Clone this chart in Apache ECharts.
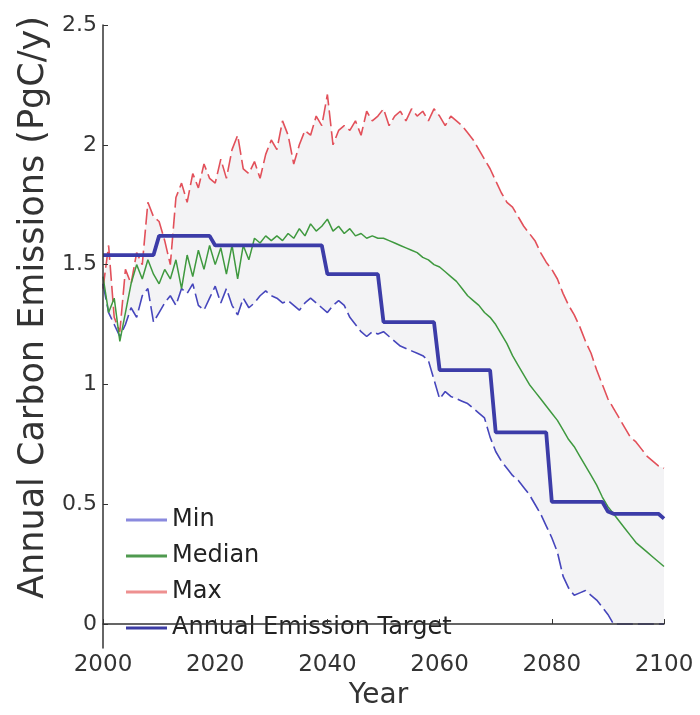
<!DOCTYPE html>
<html><head><meta charset="utf-8">
<script src="https://cdn.jsdelivr.net/npm/echarts@6/dist/echarts.min.js"></script>
<style>html,body{margin:0;padding:0;background:#fff}#c{width:700px;height:715px}</style>
</head><body><div id="c"></div>
<script>
const years = [
2000,2001,2002,2003,2004,2005,2006,2007,2008,2009,
2010,2011,2012,2013,2014,2015,2016,2017,2018,2019,
2020,2021,2022,2023,2024,2025,2026,2027,2028,2029,
2030,2031,2032,2033,2034,2035,2036,2037,2038,2039,
2040,2041,2042,2043,2044,2045,2046,2047,2048,2049,
2050,2051,2052,2053,2054,2055,2056,2057,2058,2059,
2060,2061,2062,2063,2064,2065,2066,2067,2068,2069,
2070,2071,2072,2073,2074,2075,2076,2077,2078,2079,
2080,2081,2082,2083,2084,2085,2086,2087,2088,2089,
2090,2091,2092,2093,2094,2095,2096,2097,2098,2099,
2100];

const minVals = [
1.42,1.30,1.25,1.20,1.25,1.32,1.28,1.37,1.40,1.26,
1.30,1.34,1.37,1.33,1.40,1.38,1.42,1.33,1.31,1.36,
1.41,1.34,1.40,1.33,1.29,1.36,1.32,1.34,1.37,1.39,
1.37,1.36,1.34,1.35,1.33,1.31,1.34,1.36,1.34,1.32,
1.30,1.33,1.35,1.33,1.28,1.25,1.22,1.20,1.22,1.21,
1.22,1.20,1.18,1.16,1.15,1.14,1.13,1.12,1.10,1.02,
0.94,0.97,0.95,0.94,0.93,0.92,0.90,0.88,0.86,0.78,
0.72,0.68,0.65,0.62,0.60,0.57,0.54,0.50,0.46,0.41,
0.36,0.30,0.20,0.15,0.12,0.13,0.14,0.12,0.10,0.07,
0.04,0.00,0.00,0.00,0.00,0.00,0.00,0.00,0.00,0.00,
0.00];

const medianVals = [
1.45,1.30,1.36,1.18,1.30,1.42,1.50,1.44,1.52,1.46,
1.42,1.48,1.44,1.52,1.40,1.54,1.45,1.56,1.48,1.58,
1.50,1.57,1.46,1.58,1.44,1.58,1.52,1.61,1.59,1.62,
1.60,1.62,1.60,1.63,1.61,1.65,1.62,1.67,1.64,1.66,
1.69,1.64,1.66,1.63,1.65,1.62,1.63,1.61,1.62,1.61,
1.61,1.60,1.59,1.58,1.57,1.56,1.55,1.53,1.52,1.50,
1.49,1.47,1.45,1.43,1.40,1.37,1.35,1.33,1.30,1.28,
1.25,1.21,1.17,1.12,1.08,1.04,1.00,0.97,0.94,0.91,
0.88,0.85,0.81,0.77,0.74,0.70,0.66,0.62,0.58,0.53,
0.49,0.46,0.43,0.40,0.37,0.34,0.32,0.30,0.28,0.26,
0.24];

const maxVals = [
1.40,1.58,1.28,1.22,1.48,1.42,1.55,1.50,1.76,1.70,
1.68,1.60,1.50,1.78,1.84,1.76,1.88,1.82,1.92,1.86,
1.84,1.94,1.86,1.98,2.04,1.90,1.88,1.93,1.86,1.96,
2.02,1.98,2.10,2.04,1.92,2.00,2.06,2.04,2.12,2.08,
2.21,2.00,2.06,2.08,2.06,2.10,2.04,2.14,2.10,2.12,
2.15,2.08,2.12,2.14,2.10,2.15,2.12,2.14,2.10,2.15,
2.12,2.08,2.12,2.10,2.08,2.05,2.02,1.98,1.94,1.90,
1.85,1.80,1.76,1.74,1.70,1.66,1.63,1.60,1.55,1.51,
1.48,1.44,1.38,1.33,1.29,1.24,1.18,1.13,1.06,1.00,
0.94,0.90,0.86,0.82,0.78,0.76,0.73,0.70,0.68,0.66,
0.65];

const targetVals = [
1.54,1.54,1.54,1.54,1.54,1.54,1.54,1.54,1.54,1.54,
1.62,1.62,1.62,1.62,1.62,1.62,1.62,1.62,1.62,1.62,
1.58,1.58,1.58,1.58,1.58,1.58,1.58,1.58,1.58,1.58,
1.58,1.58,1.58,1.58,1.58,1.58,1.58,1.58,1.58,1.58,
1.46,1.46,1.46,1.46,1.46,1.46,1.46,1.46,1.46,1.46,
1.26,1.26,1.26,1.26,1.26,1.26,1.26,1.26,1.26,1.26,
1.06,1.06,1.06,1.06,1.06,1.06,1.06,1.06,1.06,1.06,
0.80,0.80,0.80,0.80,0.80,0.80,0.80,0.80,0.80,0.80,
0.51,0.51,0.51,0.51,0.51,0.51,0.51,0.51,0.51,0.51,
0.47,0.46,0.46,0.46,0.46,0.46,0.46,0.46,0.46,0.46,
0.44];

const xTicks = [2000, 2020, 2040, 2060, 2080, 2100];
const yTicks = [0, 0.5, 1, 1.5, 2, 2.5];
const seriesNames = ['Min', 'Median', 'Max', 'Annual Emission Target'];

const pairs = vals => years.map((y, i) => [y, vals[i]]);

const FONT = '"DejaVu Sans", sans-serif';
const chart = echarts.init(document.getElementById('c'), null, {renderer: 'canvas'});
chart.setOption({
  backgroundColor: '#ffffff',
  animation: false,
  grid: {left: 103, right: 36, top: 25, bottom: 67, containLabel: false},
  legend: {
    orient: 'vertical', left: 121, top: 502,
    itemWidth: 41, itemHeight: 3, itemGap: 10,
    icon: 'rect',
    textStyle: {fontFamily: FONT, fontSize: 24, color: '#222', lineHeight: 26},
    data: [
      {name: seriesNames[0], itemStyle: {color: '#8a8ade'}},
      {name: seriesNames[1], itemStyle: {color: '#4f9a4f'}},
      {name: seriesNames[2], itemStyle: {color: '#ee9090'}},
      {name: seriesNames[3], itemStyle: {color: '#3c3ca4'}}
    ]
  },
  xAxis: {
    type: 'value', min: 2000, max: 2100, interval: 20, z: 10,
    name: 'Year', nameLocation: 'middle', nameGap: 13,
    nameTextStyle: {fontFamily: FONT, fontSize: 28, color: '#333', verticalAlign: 'top',
      padding: [0, 10, 0, 0]},
    axisLine: {lineStyle: {color: '#333', width: 1.5}},
    axisTick: {inside: true, length: 5, lineStyle: {color: '#333'}},
    axisLabel: {fontFamily: FONT, fontSize: 23, color: '#333', margin: 6,
      customValues: xTicks, formatter: v => String(v)},
    splitLine: {show: false}
  },
  yAxis: {
    type: 'value', min: -0.1, max: 2.5, z: 10,
    name: 'Annual Carbon Emissions (PgC/y)', nameLocation: 'middle', nameGap: 52,
    nameTextStyle: {fontFamily: FONT, fontSize: 35, color: '#333', padding: [0, 0, 0, 58]},
    axisLine: {show: true, lineStyle: {color: '#333', width: 1.5}},
    axisTick: {show: true, inside: true, length: 5, lineStyle: {color: '#333'}, customValues: yTicks},
    axisLabel: {fontFamily: FONT, fontSize: 22, color: '#333', margin: 6,
      customValues: yTicks, formatter: v => String(v)},
    splitLine: {show: false}
  },
  series: [
    {name: 'fill-max', type: 'line', data: pairs(maxVals), symbol: 'none',
      lineStyle: {opacity: 0}, areaStyle: {color: '#f3f3f5', opacity: 1, origin: 'start'},
      silent: true, z: 1},
    {name: 'fill-min', type: 'line', data: pairs(minVals), symbol: 'none',
      lineStyle: {opacity: 0}, areaStyle: {color: '#ffffff', opacity: 1, origin: 'start'},
      silent: true, z: 1},
    {name: seriesNames[2], type: 'line', data: pairs(maxVals), symbol: 'none', z: 3,
      lineStyle: {color: '#e2505a', width: 1.6, type: [16, 5]}, itemStyle: {color: '#e2505a'}},
    {name: seriesNames[0], type: 'line', data: pairs(minVals), symbol: 'none', z: 3,
      lineStyle: {color: '#4646bc', width: 1.6, type: [16, 5]}, itemStyle: {color: '#4646bc'}},
    {name: seriesNames[1], type: 'line', data: pairs(medianVals), symbol: 'none', z: 3,
      lineStyle: {color: '#3f993f', width: 1.5}, itemStyle: {color: '#3f993f'}},
    {name: seriesNames[3], type: 'line', data: pairs(targetVals), symbol: 'none', z: 4,
      lineStyle: {color: '#3c3ca8', width: 3.8}, itemStyle: {color: '#3c3ca8'}}
  ]
});
</script>
</body></html>
